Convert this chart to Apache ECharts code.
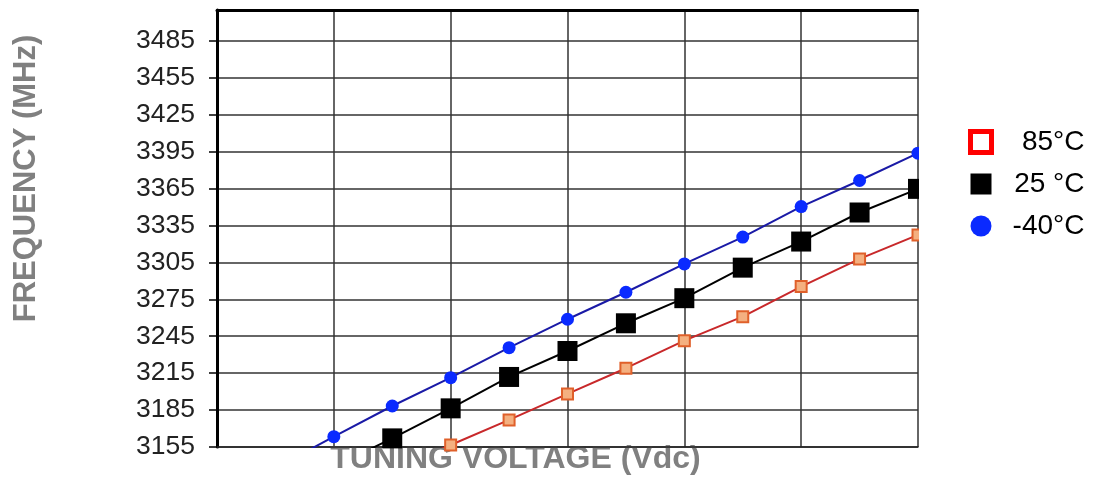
<!DOCTYPE html>
<html>
<head>
<meta charset="utf-8">
<script src="https://cdn.jsdelivr.net/npm/echarts@6/dist/echarts.min.js"></script>
<style>html,body{margin:0;padding:0;background:#fff}#c{width:1094px;height:477px}</style>
</head>
<body>
<div id="c"></div>
<script>
// Tuning voltage (arbitrary units, gridlines every 1, points every 0.5)
const voltsBlue  = [0.5, 1, 1.5, 2, 2.5, 3, 3.5, 4, 4.5, 5, 5.5, 6];
const freqM40    = [3138, 3163.4, 3188.3, 3211.3, 3235.7, 3258.8, 3280.7, 3303.7, 3325.5, 3350.3, 3371.5, 3393.7];
const voltsBlack = [1, 1.5, 2, 2.5, 3, 3.5, 4, 4.5, 5, 5.5, 6];
const freq25     = [3139, 3162.0, 3186.4, 3211.9, 3233.0, 3255.5, 3275.9, 3300.7, 3321.9, 3345.5, 3364.7];
const voltsRed   = [1.5, 2, 2.5, 3, 3.5, 4, 4.5, 5, 5.5, 6];
const freq85     = [3136, 3156.6, 3177.0, 3198.1, 3219.0, 3241.4, 3260.9, 3285.3, 3307.8, 3327.3];
const yTicks     = [3155, 3185, 3215, 3245, 3275, 3305, 3335, 3365, 3395, 3425, 3455, 3485];
const seriesNames = ['85°C', '25 °C', '-40°C'];

const pair = (xs, ys) => xs.map((x, i) => [x, ys[i]]);
const FONT = '"Liberation Sans", Arial, sans-serif';

const chart = echarts.init(document.getElementById('c'), null, {renderer: 'canvas'});
chart.setOption({
  animation: false,
  backgroundColor: '#fff',
  grid: {left: 217, top: 10, width: 701, height: 437, show: false, containLabel: false, outerBoundsMode: 'none'},
  xAxis: [{
    type: 'value', min: 0, max: 6, interval: 1, position: 'bottom',
    axisLine: {show: true, onZero: false, lineStyle: {color: '#222', width: 1.5}},
    axisTick: {show: false}, axisLabel: {show: false},
    splitLine: {show: true, lineStyle: {color: '#333', width: 1.5}},
    name: 'TUNING VOLTAGE (Vdc)', nameLocation: 'middle', nameGap: -4,
    nameTextStyle: {color: '#808080', fontSize: 32, fontWeight: 'bold', fontFamily: FONT, padding: [0, 104, 0, 0]}
  }, {
    type: 'value', min: 0, max: 6, position: 'top',
    axisLine: {show: true, onZero: false, lineStyle: {color: '#000', width: 3}},
    axisTick: {show: false}, axisLabel: {show: false}, splitLine: {show: false}
  }],
  yAxis: {
    type: 'value', min: 3155, max: 3510, interval: 30,
    axisLine: {show: true, onZero: false, lineStyle: {color: '#000', width: 3}},
    axisTick: {show: true, length: 8, customValues: yTicks, lineStyle: {color: '#000', width: 1.5}},
    axisLabel: {
      margin: 22, color: '#222', fontSize: 26.5, fontFamily: FONT, customValues: yTicks,
      formatter: v => (yTicks.indexOf(v) >= 0 ? String(v) : '')
    },
    splitLine: {show: true, lineStyle: {color: '#333', width: 1.5}},
    name: 'FREQUENCY (MHz)', nameLocation: 'middle', nameRotate: 90, nameGap: 175,
    nameTextStyle: {color: '#808080', fontSize: 31, fontWeight: 'bold', fontFamily: FONT, padding: [0, 0, 0, 100]}
  },
  legend: {
    orient: 'vertical', left: 963, top: 123, itemWidth: 21, itemHeight: 21, itemGap: 14,
    formatter: '{t|{name}}',
    textStyle: {rich: {t: {width: 88, align: 'right', fontSize: 28, lineHeight: 31, color: '#000', fontFamily: FONT}}},
    data: [
      {name: seriesNames[0], icon: 'rect', itemStyle: {color: '#fff', borderColor: '#ff0000', borderWidth: 5}},
      {name: seriesNames[1], icon: 'rect', itemStyle: {color: '#000', borderWidth: 0}},
      {name: seriesNames[2], icon: 'circle', itemStyle: {color: '#0a2aff', borderWidth: 0}}
    ]
  },
  series: [{
    name: seriesNames[0], type: 'line', data: pair(voltsRed, freq85), clip: true,
    symbol: 'rect', symbolSize: 11,
    lineStyle: {color: '#c8282a', width: 2},
    itemStyle: {color: '#f4b080', borderColor: '#e0602a', borderWidth: 2}
  }, {
    name: seriesNames[1], type: 'line', data: pair(voltsBlack, freq25), clip: true,
    symbol: 'rect', symbolSize: 20,
    lineStyle: {color: '#000', width: 2},
    itemStyle: {color: '#000', borderWidth: 0}
  }, {
    name: seriesNames[2], type: 'line', data: pair(voltsBlue, freqM40), clip: true,
    symbol: 'circle', symbolSize: 13,
    lineStyle: {color: '#1a1aa6', width: 2},
    itemStyle: {color: '#0a2aff', borderWidth: 0}
  }],
  graphic: [{
    type: 'rect', left: 919, top: 0, z: 100,
    shape: {width: 40, height: 460}, style: {fill: '#fff'}
  }]
});
</script>
</body>
</html>
